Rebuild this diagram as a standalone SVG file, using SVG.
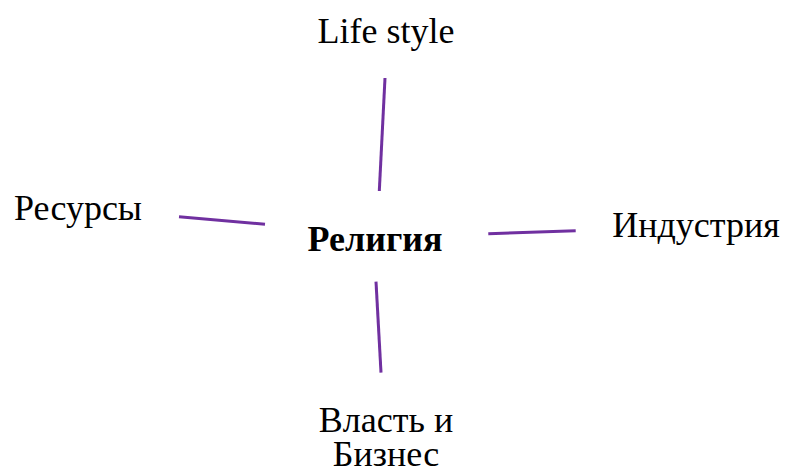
<svg xmlns="http://www.w3.org/2000/svg" width="790" height="472" viewBox="0 0 790 472">
<style>
.t{font-family:"Liberation Serif","Times New Roman",serif;font-size:36px;fill:#000;text-anchor:middle}
.b{font-weight:bold}
.c line{stroke:#7030A0;stroke-width:3;fill:none}
</style>
<rect width="790" height="472" fill="#fff"/>
<g class="c" id="connectors">
<line x1="385" y1="78" x2="379.3" y2="191"/>
<line x1="179" y1="216.7" x2="265" y2="224.3"/>
<line x1="488.3" y1="233.7" x2="575.7" y2="230.7"/>
<line x1="376" y1="281.7" x2="381" y2="372.7"/>
</g>
<g id="center"><text class="t b" x="375" y="251">Религия</text></g>
<g id="top"><text class="t" x="386" y="43">Life style</text></g>
<g id="left"><text class="t" x="78" y="220">Ресурсы</text></g>
<g id="right"><text class="t" x="696" y="237">Индустрия</text></g>
<g id="bottom"><text class="t" x="386" y="432">Власть и</text><text class="t" x="386" y="466">Бизнес</text></g>
</svg>
